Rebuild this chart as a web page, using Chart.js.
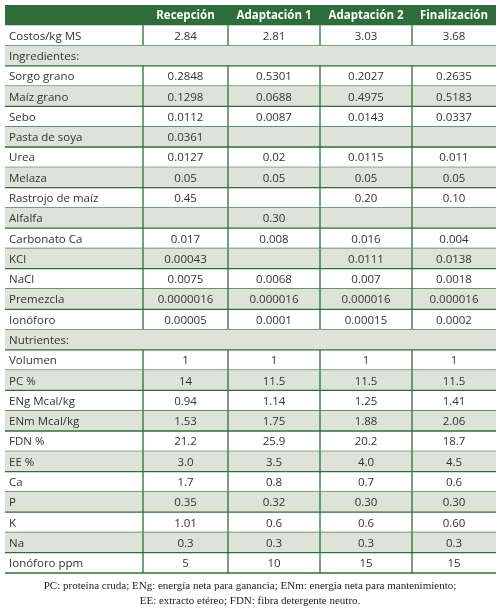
<!DOCTYPE html>
<html><head><meta charset="utf-8">
<script src="https://cdn.jsdelivr.net/npm/chart.js@4"></script>
<style>body{margin:0;background:#fff}canvas{display:block}</style>
</head><body>
<canvas id="c" width="500" height="613"></canvas>
<script>
const columns = ['', 'Recepción', 'Adaptación 1', 'Adaptación 2', 'Finalización'];
const rows = ['Costos/kg MS','Ingredientes:','Sorgo grano','Maíz grano','Sebo','Pasta de soya','Urea','Melaza','Rastrojo de maíz','Alfalfa','Carbonato Ca','KCl','NaCl','Premezcla','Ionóforo','Nutrientes:','Volumen','PC %','ENg Mcal/kg','ENm Mcal/kg','FDN %','EE %','Ca','P','K','Na','Ionóforo ppm'];
const sections = ['Ingredientes:','Nutrientes:'];
const recepcion = ['2.84','','0.2848','0.1298','0.0112','0.0361','0.0127','0.05','0.45','','0.017','0.00043','0.0075','0.0000016','0.00005','','1','14','0.94','1.53','21.2','3.0','1.7','0.35','1.01','0.3','5'];
const adaptacion1 = ['2.81','','0.5301','0.0688','0.0087','','0.02','0.05','','0.30','0.008','','0.0068','0.000016','0.0001','','1','11.5','1.14','1.75','25.9','3.5','0.8','0.32','0.6','0.3','10'];
const adaptacion2 = ['3.03','','0.2027','0.4975','0.0143','','0.0115','0.05','0.20','','0.016','0.0111','0.007','0.000016','0.00015','','1','11.5','1.25','1.88','20.2','4.0','0.7','0.30','0.6','0.3','15'];
const finalizacion = ['3.68','','0.2635','0.5183','0.0337','','0.011','0.05','0.10','','0.004','0.0138','0.0018','0.000016','0.0002','','1','11.5','1.41','2.06','18.7','4.5','0.6','0.30','0.60','0.3','15'];
const footnote = ['PC: proteína cruda; ENg: energía neta para ganancia; ENm: energía neta para mantenimiento;','EE: extracto etéreo; FDN: fibra detergente neutro.'];

const series = [recepcion, adaptacion1, adaptacion2, finalizacion];
const yLabels = ['__header__'].concat(rows);
const colWeights = [138, 85, 92, 92, 84];

const datasets = series.map((vals, ci) => ({
  label: columns[ci+1],
  data: vals.map((v, ri) => ({x: columns[ci+1], y: rows[ri], v})),
  pointRadius: 0
}));

const tablePlugin = {
  id: 'table',
  afterDatasetsDraw(chart) {
    const ctx = chart.ctx, a = chart.chartArea, ys = chart.scales.y;
    const total = colWeights.reduce((s, w) => s + w, 0);
    const edges = [a.left];
    colWeights.forEach(w => edges.push(edges[edges.length-1] + w / total * (a.right - a.left)));
    const h = (a.bottom - a.top) / yLabels.length;
    const green = '#2f6e3b';
    ctx.save();
    // header
    let yc = ys.getPixelForValue(0);
    ctx.fillStyle = green;
    ctx.fillRect(a.left, yc - h/2, a.right - a.left, h);
    ctx.fillStyle = '#fff';
    ctx.font = 'bold 11.5px "Open Sans"';
    ctx.textAlign = 'center'; ctx.textBaseline = 'middle';
    for (let c = 1; c < columns.length; c++) ctx.fillText(columns[c], (edges[c]+edges[c+1])/2, yc+1);
    rows.forEach((r, ri) => {
      const y = ys.getPixelForValue(ri+1);
      const top = y - h/2, bot = y + h/2;
      if (ri % 2 === 1) { ctx.fillStyle = '#dde3d8'; ctx.fillRect(a.left, top, a.right-a.left, h); }
      ctx.strokeStyle = green; ctx.lineWidth = 1.3;
      ctx.beginPath(); ctx.moveTo(a.left, bot); ctx.lineTo(a.right, bot); ctx.stroke();
      const isSec = sections.includes(r);
      if (!isSec) {
        ctx.beginPath();
        for (let c = 1; c < edges.length-1; c++) { ctx.moveTo(edges[c], top); ctx.lineTo(edges[c], bot); }
        ctx.stroke();
      }
      ctx.fillStyle = '#333'; ctx.font = '11.5px "Open Sans"';
      ctx.textAlign = 'left';
      ctx.fillText(r, edges[0]+4, y+1);
      ctx.textAlign = 'center';
      chart.data.datasets.forEach((ds, ci) => {
        const v = ds.data[ri].v;
        if (v) ctx.fillText(v, (edges[ci+1]+edges[ci+2])/2, y+1);
      });
    });
    ctx.fillStyle = '#222'; ctx.font = '11px "Liberation Serif"'; ctx.textAlign = 'center';
    ctx.fillText(footnote[0], 250, a.bottom + 13);
    ctx.fillText(footnote[1], 250, a.bottom + 28);
    ctx.restore();
  }
};

new Chart(document.getElementById('c'), {
  type: 'scatter',
  data: { datasets },
  options: {
    responsive: false, animation: false,
    layout: { padding: { left: 5, right: 4, top: 5, bottom: 40 } },
    plugins: { legend: { display: false }, tooltip: { enabled: false } },
    scales: {
      x: { type: 'category', labels: columns.slice(1), display: false, offset: true },
      y: { type: 'category', labels: yLabels, display: false, offset: true }
    }
  },
  plugins: [tablePlugin]
});
</script>
</body></html>
